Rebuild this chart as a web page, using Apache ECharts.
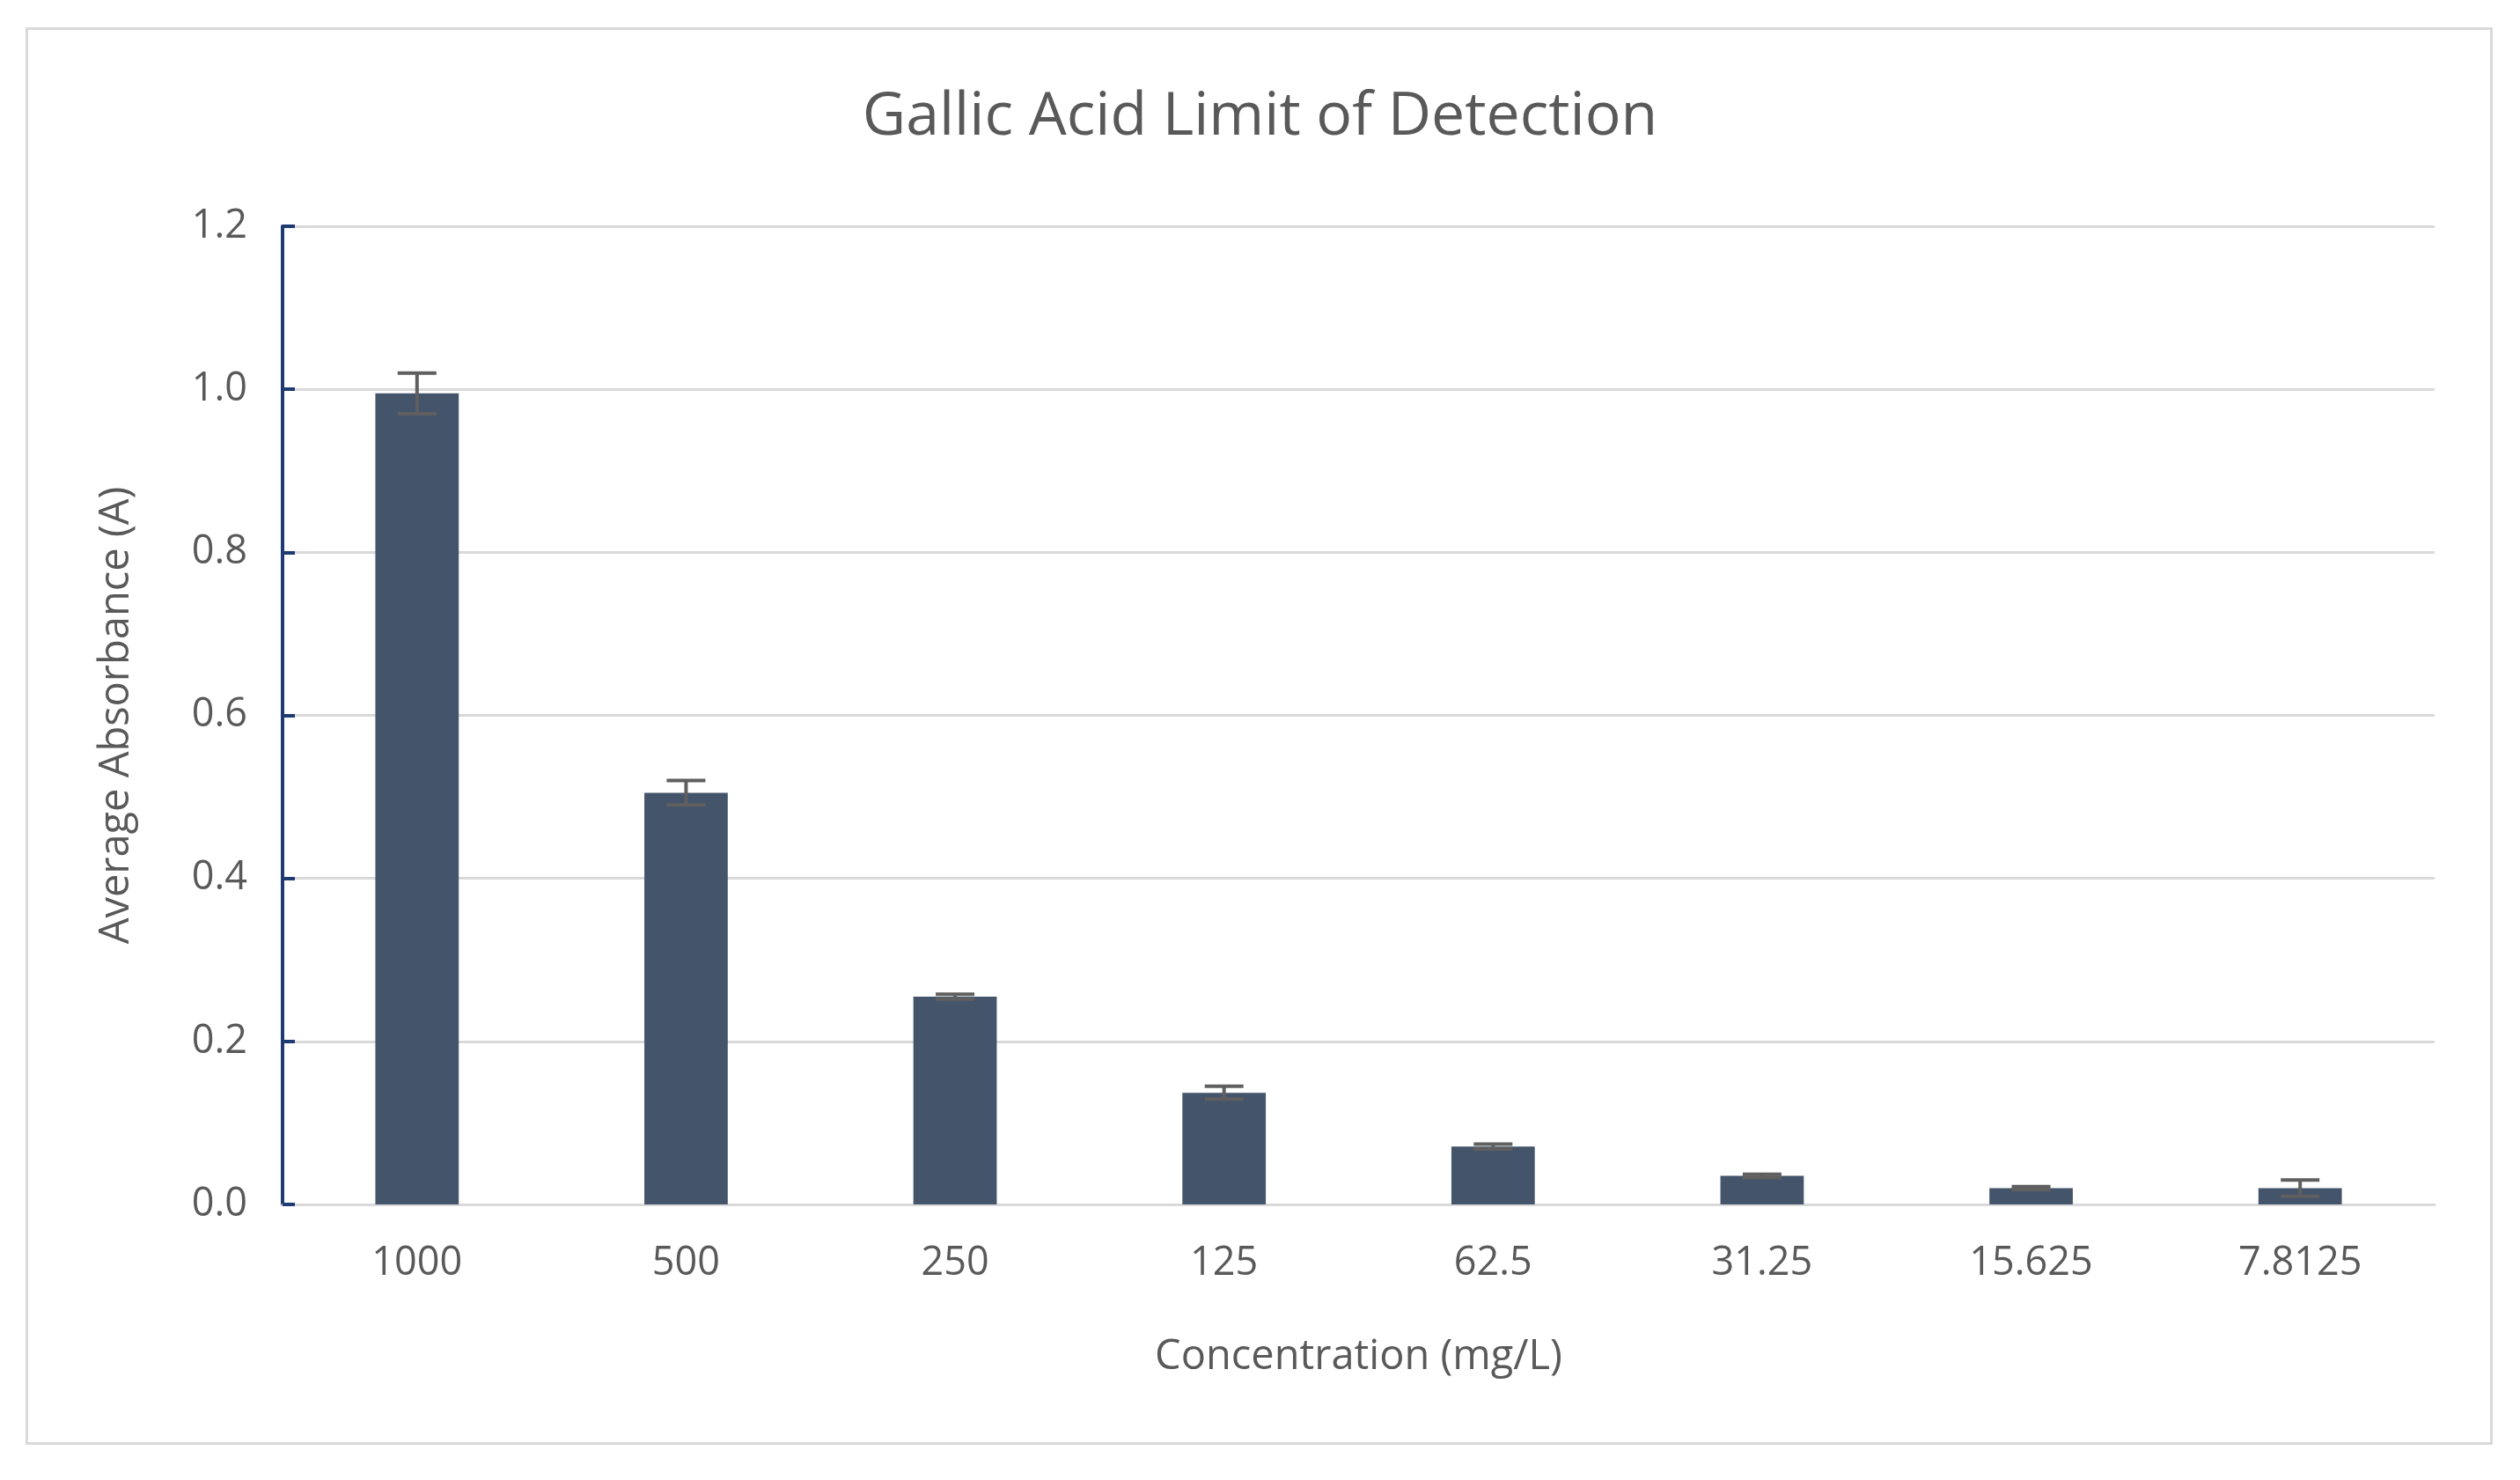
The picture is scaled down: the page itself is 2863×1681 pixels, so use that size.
<!DOCTYPE html>
<html>
<head>
<meta charset="utf-8">
<script src="https://cdn.jsdelivr.net/npm/echarts@6/dist/echarts.min.js"></script>
<style>
  html, body { margin: 0; padding: 0; background: #fff; }
  #frame { position: absolute; left: 29px; top: 31px; width: 2803px; height: 1610px; border: 3px solid #d9d9d9; box-sizing: border-box; }
  #chart { position: absolute; left: 0; top: 0; width: 2863px; height: 1681px; }
</style>
</head>
<body>
<div id="frame"></div>
<div id="chart"></div>
<script>
const categories = ['1000', '500', '250', '125', '62.5', '31.25', '15.625', '7.8125'];
const absorbance = [0.995, 0.505, 0.255, 0.137, 0.071, 0.035, 0.020, 0.020];
const errors = [0.025, 0.015, 0.003, 0.008, 0.003, 0.002, 0.002, 0.010];

const chart = echarts.init(document.getElementById('chart'));
const textColor = '#595959';
const fontFamily = '"Open Sans", "Noto Sans", sans-serif';

chart.setOption({
    animation: false,
    title: {
        text: 'Gallic Acid Limit of Detection',
        left: 'center',
        top: 95,
        textStyle: { color: textColor, fontSize: 68, fontWeight: 'normal', fontFamily }
    },
    grid: { left: 321, right: 97, top: 257, bottom: 313 },
    xAxis: {
        type: 'category',
        data: categories,
        name: 'Concentration (mg/L)',
        nameLocation: 'middle',
        nameGap: 150,
        nameTextStyle: { color: textColor, fontSize: 47, fontFamily },
        axisLine: { lineStyle: { color: '#d9d9d9', width: 3 } },
        axisTick: { show: false },
        axisLabel: { color: textColor, fontSize: 45, margin: 45, fontFamily }
    },
    yAxis: {
        type: 'value',
        min: 0, max: 1.2, interval: 0.2,
        name: 'Average Absorbance (A)',
        nameLocation: 'middle',
        nameGap: 165,
        nameTextStyle: { color: textColor, fontSize: 47, fontFamily },
        axisLine: { show: true, lineStyle: { color: '#1f3b73', width: 4 } },
        axisTick: { show: true, length: 14, inside: true, lineStyle: { color: '#1f3b73', width: 4 } },
        splitLine: { lineStyle: { color: '#d9d9d9', width: 3 } },
        axisLabel: { color: textColor, fontSize: 45, margin: 40, fontFamily, formatter: v => v.toFixed(1) }
    },
    series: [
        {
            type: 'bar',
            data: absorbance,
            barWidth: '31%',
            itemStyle: { color: '#44546a' }
        },
        {
            type: 'custom',
            data: absorbance.map((v, i) => [i, v - errors[i], v + errors[i]]),
            renderItem: function (params, api) {
                const lo = api.coord([api.value(0), api.value(1)]);
                const hi = api.coord([api.value(0), api.value(2)]);
                const w = 22;
                const style = { stroke: '#5f5f5f', lineWidth: 4 };
                return {
                    type: 'group',
                    children: [
                        { type: 'line', shape: { x1: hi[0], y1: hi[1], x2: lo[0], y2: lo[1] }, style },
                        { type: 'line', shape: { x1: hi[0] - w, y1: hi[1], x2: hi[0] + w, y2: hi[1] }, style },
                        { type: 'line', shape: { x1: lo[0] - w, y1: lo[1], x2: lo[0] + w, y2: lo[1] }, style }
                    ]
                };
            },
            z: 10
        }
    ]
});
</script>
</body>
</html>
